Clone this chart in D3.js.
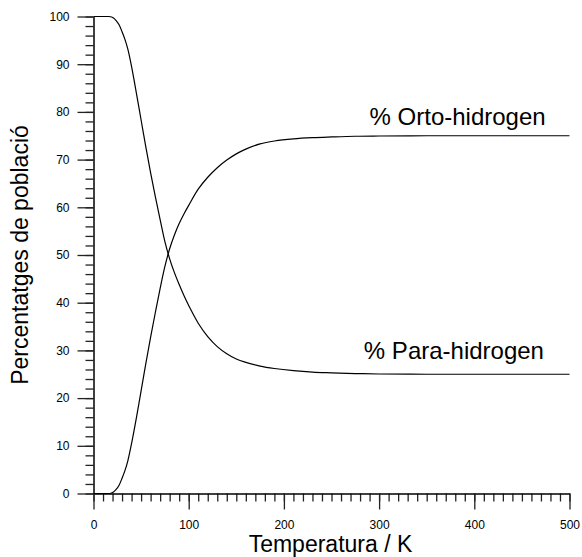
<!DOCTYPE html>
<html>
<head>
<meta charset="utf-8">
<script src="https://cdn.jsdelivr.net/npm/d3@7"></script>
<style>
  body { margin: 0; background: #fff; }
  svg { display: block; font-family: "Liberation Sans", Arial, sans-serif; }
  .tick text { font-size: 12px; fill: #000; }
  .tick line { stroke: #222; stroke-width: 1.3; }
  .domain { stroke: #000; stroke-width: 1; }
</style>
</head>
<body>
<svg id="chart" width="582" height="557"></svg>
<script>
// temperature (K) and population percentages
var temps = [0, 10, 15, 18, 21, 24, 27, 30, 33, 36, 40, 45, 50, 55, 60, 65, 70, 75, 80, 85, 90, 95, 100, 110, 120, 130, 140, 150, 160, 175, 190, 210, 230, 250, 275, 300, 350, 400, 450, 500];
var ortho = [0, 0, 0, 0.05, 0.3, 0.9, 1.8, 3.2, 4.8, 6.8, 10.5, 15.8, 21.5, 27.3, 32.8, 38, 43, 47.6, 51.3, 54.2, 56.6, 58.6, 60.4, 63.8, 66.3, 68.3, 69.9, 71.2, 72.2, 73.3, 73.9, 74.35, 74.6, 74.75, 74.9, 74.95, 75, 75, 75, 75];
var para  = [100, 100, 100, 99.95, 99.7, 99.1, 98.2, 96.8, 95.2, 93.2, 89.5, 84, 78.3, 72.6, 67.2, 62.2, 57.4, 52.8, 49.2, 46.3, 43.8, 41.5, 39.4, 35.7, 32.9, 30.8, 29.3, 28.2, 27.5, 26.7, 26.2, 25.75, 25.45, 25.3, 25.15, 25.05, 25, 25, 25, 25];

var xTicks = [0, 100, 200, 300, 400, 500];
var yTicks = [0, 10, 20, 30, 40, 50, 60, 70, 80, 90, 100];

const svg = d3.select('#chart');

const x = d3.scaleLinear().domain([0, 500]).range([93.5, 569.5]);
const y = d3.scaleLinear().domain([0, 100]).range([493.5, 16.5]);

// minor ticks first, so major ones sit on top
svg.append('g')
    .attr('transform', 'translate(0,' + y(0) + ')')
    .call(d3.axisBottom(x).tickValues(d3.range(0, 501, 10)).tickSize(8).tickSizeOuter(0).tickFormat(''));

svg.append('g')
    .attr('transform', 'translate(' + x(0) + ',0)')
    .call(d3.axisLeft(y).tickValues(d3.range(0, 101, 2)).tickSize(8).tickSizeOuter(0).tickFormat(''));

svg.append('g')
    .attr('transform', 'translate(0,' + y(0) + ')')
    .call(d3.axisBottom(x).tickValues(xTicks).tickSize(16).tickSizeOuter(0).tickPadding(11));

svg.append('g')
    .attr('transform', 'translate(' + x(0) + ',0)')
    .call(d3.axisLeft(y).tickValues(yTicks).tickSize(16).tickSizeOuter(0).tickPadding(8));

const line = d3.line()
    .x(function (d, i) { return x(temps[i]); })
    .y(function (d) { return y(d); })
    .curve(d3.curveCatmullRom.alpha(0.5));

svg.append('path')
    .datum(ortho)
    .attr('fill', 'none')
    .attr('stroke', '#000')
    .attr('stroke-width', 1.2)
    .attr('d', line);

svg.append('path')
    .datum(para)
    .attr('fill', 'none')
    .attr('stroke', '#000')
    .attr('stroke-width', 1.2)
    .attr('d', line);

svg.append('text')
    .attr('x', x(290))
    .attr('y', y(75) - 11)
    .style('font-size', '24px')
    .text('% Orto-hidrogen');

svg.append('text')
    .attr('x', x(284))
    .attr('y', y(25) - 15)
    .style('font-size', '24px')
    .text('% Para-hidrogen');

svg.append('text')
    .attr('x', (x(0) + x(500)) / 2 - 1)
    .attr('y', 552)
    .attr('text-anchor', 'middle')
    .style('font-size', '23px')
    .text('Temperatura / K');

svg.append('text')
    .attr('transform', 'rotate(-90)')
    .attr('x', -(y(0) + y(100)) / 2)
    .attr('y', 28)
    .attr('text-anchor', 'middle')
    .style('font-size', '23px')
    .text('Percentatges de població');
</script>
</body>
</html>
